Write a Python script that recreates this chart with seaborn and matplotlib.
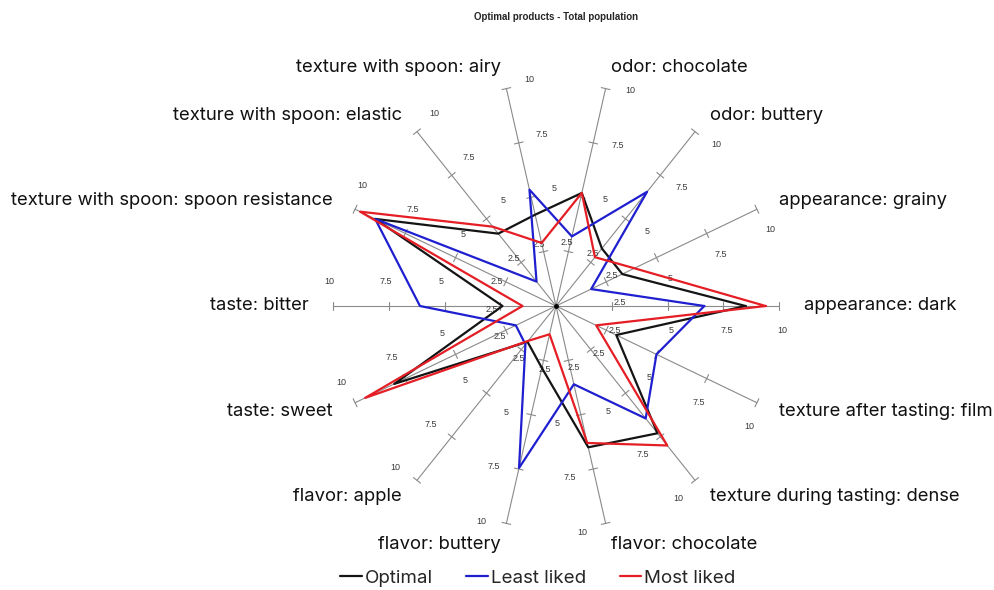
import numpy as np
import pandas as pd
import matplotlib
matplotlib.use("Agg")
import matplotlib.pyplot as plt
import seaborn as sns

categories = [
    "appearance: dark",
    "appearance: grainy",
    "odor: buttery",
    "odor: chocolate",
    "texture with spoon: airy",
    "texture with spoon: elastic",
    "texture with spoon: spoon resistance",
    "taste: bitter",
    "taste: sweet",
    "flavor: apple",
    "flavor: buttery",
    "flavor: chocolate",
    "texture during tasting: dense",
    "texture after tasting: film",
]
optimal = [8.5, 3.3, 3.3, 5.2, 4.2, 4.15, 9.0, 2.4, 8.05, 2.05, 2.85, 6.5, 7.3, 3.0]
least_liked = [6.65, 1.75, 6.55, 3.2, 5.35, 1.4, 9.0, 6.1, 2.0, 2.2, 7.45, 3.6, 6.45, 5.0]
most_liked = [9.4, 3.9, 2.8, 5.2, 2.9, 4.55, 9.75, 1.5, 9.5, 2.0, 1.3, 6.3, 8.0, 2.0]
series_names = ["Optimal", "Least liked", "Most liked"]
tick_values = [2.5, 5, 7.5, 10]
title = "Optimal products - Total population"

sns.set_style("white")
plt.rcParams["font.family"] = ["Inter", "DejaVu Sans"]

n = len(categories)
angles = np.arange(n) * 2 * np.pi / n

rows = []
for name, vals in zip(series_names, [optimal, least_liked, most_liked]):
    for k in list(range(n)) + [0]:
        rows.append({
            "series": name,
            "x": vals[k] * np.cos(angles[k]),
            "y": vals[k] * np.sin(angles[k]),
        })
df = pd.DataFrame(rows)

fig = plt.figure(figsize=(9.94, 5.90), dpi=100)
ax = fig.add_axes([0, 0, 1, 1])
scale = 10 / 223
ax.set_xlim(-556 * scale, (994 - 556) * scale)
ax.set_ylim(-284 * scale, 306 * scale)
ax.axis("off")

axis_color = "#8a8a8a"
rmax = max(tick_values)
for k, a in enumerate(angles):
    c, s = np.cos(a), np.sin(a)
    ax.plot([0, rmax * c], [0, rmax * s], color=axis_color, lw=0.8, zorder=1)
    px, py = s, -c  # clockwise perpendicular
    for t in tick_values:
        h = 0.2
        ax.plot([t * c - h * px, t * c + h * px], [t * s - h * py, t * s + h * py],
                color=axis_color, lw=0.8, zorder=1)
        lx = (t + 0.15) * c + 1.1 * px
        ly = (t + 0.15) * s + 1.1 * py
        ax.text(lx, ly, f"{t:g}", fontsize=6.5, color="#3a3a3a",
                ha="center", va="center", family=["Liberation Sans", "DejaVu Sans"])
    r_lab = 11.1
    ha = "left" if c > 0.05 else ("right" if c < -0.05 else "center")
    ax.text(r_lab * c, r_lab * s - 0.15 * s, categories[k], fontsize=13.3,
            color="#111111", ha=ha, va="center")

ax.plot([0], [0], "o", color="black", ms=2.5, zorder=5)

palette = {"Optimal": "#141414", "Least liked": "#1f1fd0", "Most liked": "#e51e25"}
sns.lineplot(data=df, x="x", y="y", hue="series", hue_order=series_names,
             palette=palette, sort=False, estimator=None, lw=1.6, ax=ax, zorder=3)

sns.move_legend(ax, "center", bbox_to_anchor=(0.541, 0.02), ncol=3, frameon=False,
                title=None, fontsize=13.5, handlelength=1.15, handletextpad=0.15,
                columnspacing=1.8)

fig.text(0.559, 0.971, title, ha="center", va="center", fontsize=7,
         fontweight="bold", family=["Liberation Sans", "DejaVu Sans"])

fig.savefig("out.png", dpi=100)
